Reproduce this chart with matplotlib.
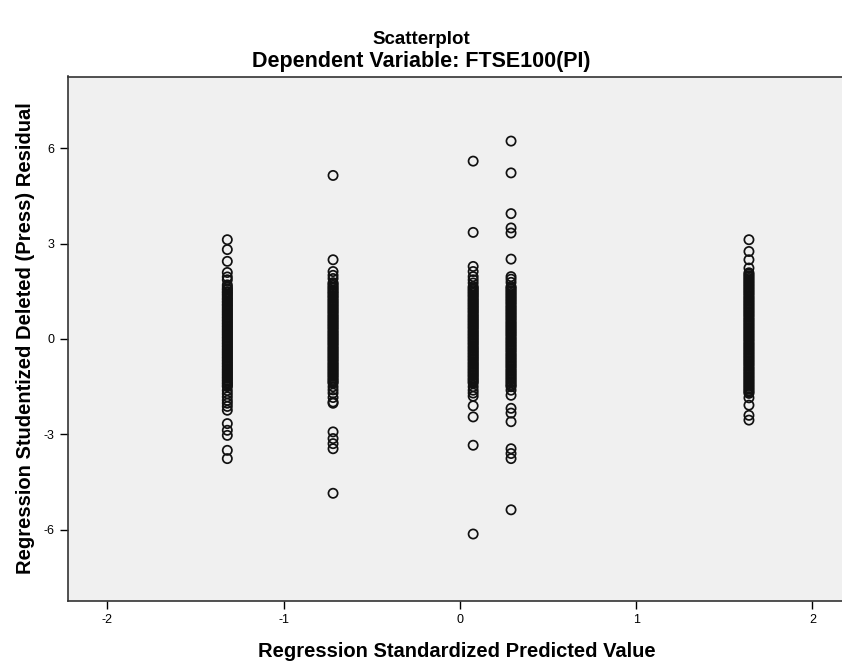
import matplotlib
matplotlib.use("Agg")
import matplotlib.pyplot as plt

plt.rcParams['font.family'] = ['Liberation Sans', 'DejaVu Sans']
plt.rcParams['axes.unicode_minus'] = False

# predicted value of each column (x) and its residuals (y)
col_x = [-1.32, -0.72, 0.075, 0.29, 1.64]

res_col1 = [3.12, 2.81, 2.44, 2.09, 1.95, 1.86, 1.7,
            1.64, 1.58, 1.55, 1.49, 1.46, 1.41, 1.37, 1.32, 1.27, 1.24, 1.18, 1.15, 1.09,
            1.06, 1.01, 0.96, 0.92, 0.87, 0.83, 0.78, 0.74, 0.69, 0.65, 0.6, 0.56, 0.51,
            0.47, 0.42, 0.38, 0.33, 0.29, 0.24, 0.2, 0.15, 0.11, 0.06, 0.02, -0.03, -0.07,
            -0.12, -0.16, -0.21, -0.25, -0.3, -0.34, -0.39, -0.43, -0.48, -0.52, -0.57,
            -0.61, -0.66, -0.7, -0.75, -0.79, -0.84, -0.88, -0.93, -0.97, -1.02, -1.06,
            -1.11, -1.15, -1.2, -1.24, -1.29, -1.33, -1.38, -1.42, -1.47,
            -1.5, -1.62, -1.72, -1.82, -1.93, -2.02, -2.12, -2.24, -2.66, -2.87, -3.03,
            -3.5, -3.76]
res_col2 = [5.14, 2.49, 2.12, 2.0, 1.9,
            1.77, 1.73, 1.68, 1.63, 1.59, 1.54, 1.5, 1.45, 1.42, 1.36, 1.33, 1.28, 1.23,
            1.19, 1.14, 1.1, 1.05, 1.01, 0.96, 0.92, 0.87, 0.83, 0.78, 0.73, 0.69, 0.64,
            0.6, 0.55, 0.51, 0.46, 0.42, 0.37, 0.33, 0.28, 0.23, 0.19, 0.14, 0.1, 0.05,
            0.01, -0.04, -0.08, -0.13, -0.17, -0.22, -0.27, -0.31, -0.36, -0.4, -0.45,
            -0.49, -0.54, -0.58, -0.63, -0.67, -0.72, -0.77, -0.81, -0.86, -0.9, -0.95,
            -0.99, -1.04, -1.08, -1.13, -1.17, -1.22, -1.27, -1.31, -1.36, -1.39,
            -1.5, -1.6, -1.7, -1.84, -1.98, -2.02, -2.92, -3.13, -3.29, -3.45, -4.85]
res_col3 = [5.59, 3.35, 2.28, 2.12, 1.96, 1.86, 1.76,
            1.65, 1.61, 1.56, 1.52, 1.47, 1.43, 1.38, 1.34, 1.29, 1.24, 1.2, 1.15, 1.11,
            1.06, 1.02, 0.97, 0.93, 0.88, 0.84, 0.79, 0.74, 0.7, 0.65, 0.61, 0.56, 0.52,
            0.47, 0.43, 0.38, 0.34, 0.29, 0.24, 0.2, 0.15, 0.11, 0.06, 0.02, -0.03, -0.07,
            -0.12, -0.16, -0.21, -0.26, -0.3, -0.35, -0.39, -0.44, -0.48, -0.53, -0.57,
            -0.62, -0.66, -0.71, -0.76, -0.8, -0.85, -0.89, -0.94, -0.98, -1.03, -1.07,
            -1.12, -1.16, -1.21, -1.26, -1.3, -1.35, -1.39,
            -1.5, -1.61, -1.7, -1.8, -2.1, -2.45, -3.34, -6.13]
res_col4 = [6.22, 5.22, 3.94, 3.49, 3.33, 2.51, 1.96, 1.88, 1.78,
            1.65, 1.61, 1.57, 1.52, 1.48, 1.43, 1.39, 1.34, 1.3, 1.25, 1.21, 1.16, 1.12,
            1.07, 1.02, 0.98, 0.93, 0.89, 0.84, 0.8, 0.75, 0.71, 0.66, 0.62, 0.57, 0.52,
            0.48, 0.43, 0.39, 0.34, 0.3, 0.25, 0.21, 0.16, 0.12, 0.07, 0.02, -0.02, -0.07,
            -0.11, -0.16, -0.2, -0.25, -0.29, -0.34, -0.38, -0.43, -0.48, -0.52, -0.57,
            -0.61, -0.66, -0.7, -0.75, -0.79, -0.84, -0.88, -0.93, -0.98, -1.02, -1.07,
            -1.11, -1.16, -1.2, -1.25, -1.29, -1.34, -1.38, -1.43, -1.47, -1.5,
            -1.61, -1.77, -2.18, -2.33, -2.6, -3.45, -3.6, -3.76, -5.37]
res_col5 = [3.12, 2.75, 2.49, 2.23,
            2.08, 2.04, 1.99, 1.95, 1.9, 1.86, 1.81, 1.77, 1.72, 1.68, 1.63, 1.59, 1.54,
            1.5, 1.45, 1.41, 1.36, 1.31, 1.27, 1.22, 1.18, 1.13, 1.09, 1.04, 1.0, 0.95,
            0.91, 0.86, 0.82, 0.77, 0.73, 0.68, 0.63, 0.59, 0.54, 0.5, 0.45, 0.41, 0.36,
            0.32, 0.27, 0.23, 0.18, 0.14, 0.09, 0.05, 0.0, -0.04, -0.09, -0.14, -0.18,
            -0.23, -0.27, -0.32, -0.36, -0.41, -0.45, -0.5, -0.54, -0.59, -0.63, -0.68,
            -0.72, -0.77, -0.81, -0.86, -0.91, -0.95, -1.0, -1.04, -1.09, -1.13, -1.18,
            -1.22, -1.27, -1.31, -1.36, -1.4, -1.45, -1.49, -1.54, -1.58, -1.63, -1.67,
            -1.71, -1.85, -2.08, -2.4, -2.55]
residuals = [res_col1, res_col2, res_col3, res_col4, res_col5]

x_ticks = [-2, -1, 0, 1, 2]
y_ticks = [-6, -3, 0, 3, 6]

fig = plt.figure(figsize=(8.42, 6.68), dpi=100)
ax = fig.add_axes([68 / 842, 1 - 600.5 / 668, 777 / 842, 524 / 668])
ax.set_facecolor('#F0F0F0')

for x, ys in zip(col_x, residuals):
    ax.scatter([x] * len(ys), ys, s=44, facecolors='none', edgecolors='#111111',
               linewidths=1.25, zorder=3)

ax.set_xlim(-2.224, 2.185)
ax.set_ylim(-8.22, 8.25)
ax.set_xticks(x_ticks)
ax.set_yticks(y_ticks)
ax.tick_params(direction='out', length=6, width=1, labelsize=9, colors='black')
for sp in ax.spines.values():
    sp.set_color('#333333')
    sp.set_linewidth(1.2)

ax.set_xlabel('Regression Standardized Predicted Value', fontsize=14.5, fontweight='bold',
              labelpad=12)
ax.set_ylabel('Regression Studentized Deleted (Press) Residual', fontsize=14.5,
              fontweight='bold', labelpad=6)

fig.text(0.5, 1 - 40 / 668, 'Scatterplot', ha='center', va='center', fontsize=13.5,
         fontweight='bold')
fig.text(0.5, 1 - 62 / 668, 'Dependent Variable: FTSE100(PI)', ha='center', va='center',
         fontsize=15.5, fontweight='bold')

fig.savefig('out.png', dpi=100)
